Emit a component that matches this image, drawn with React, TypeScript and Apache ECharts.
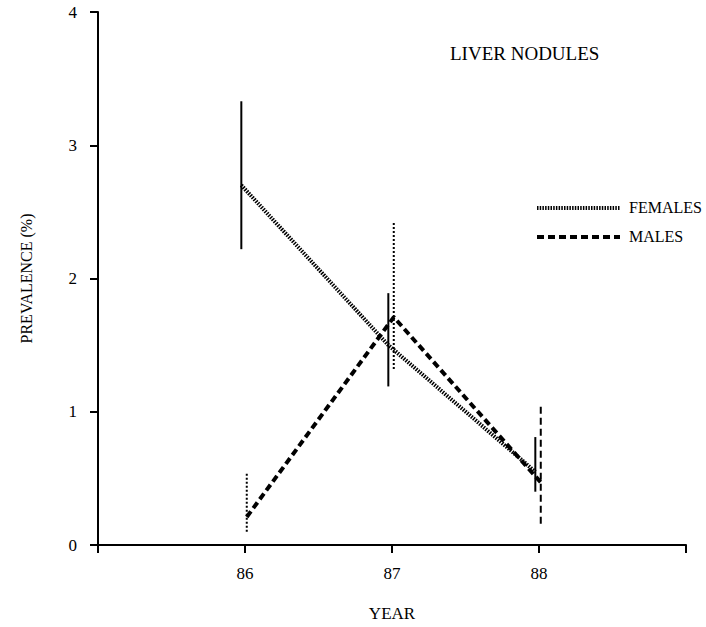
import React, { useEffect, useRef } from "react";
import * as echarts from "echarts";

const years = [86, 87, 88];
const femaleValues = [2.7, 1.5, 0.55];
const femaleLow = [2.22, 1.19, 0.4];
const femaleHigh = [3.33, 1.89, 0.81];
const maleValues = [0.21, 1.71, 0.47];
const maleLow = [0.1, 1.32, 0.16];
const maleHigh = [0.55, 2.42, 1.06];
const maleBarStyle = ["dotted", "dotted", "dashed"];
const xTickLabels = ["86", "87", "88"];
const yTickLabels = ["0", "1", "2", "3", "4"];

const FONT = "Liberation Serif";
const FEMALE_OFFSET = -0.025;
const MALE_OFFSET = 0.012;

export default function App() {
  const ref = useRef<HTMLDivElement>(null);

  useEffect(() => {
    if (!ref.current) return;
    const chart = echarts.init(ref.current, null, { renderer: "svg" });

    const femaleLine = years.map((y, i) => [y + FEMALE_OFFSET, femaleValues[i]]);
    const maleLine = years.map((y, i) => [y + MALE_OFFSET, maleValues[i]]);
    const femaleErr = years.map((y, i) => [y + FEMALE_OFFSET, femaleLow[i], femaleHigh[i], 0]);
    const maleErr = years.map((y, i) => [y + MALE_OFFSET, maleLow[i], maleHigh[i], maleBarStyle[i] === "dotted" ? 1 : 2]);

    const errRender = (params: any, api: any) => {
      const x = api.value(0);
      const lo = api.coord([x, api.value(1)]);
      const hi = api.coord([x, api.value(2)]);
      const kind = api.value(3);
      const dash = kind === 0 ? null : kind === 1 ? [2, 2] : [7, 4];
      return {
        type: "line",
        shape: { x1: lo[0], y1: lo[1], x2: hi[0], y2: hi[1] },
        style: { stroke: "#000", lineWidth: 2, lineDash: dash },
      };
    };

    chart.setOption({
      animation: false,
      backgroundColor: "#fff",
      textStyle: { fontFamily: FONT },
      grid: { left: 98, right: 20, top: 12, bottom: 81, containLabel: false },
      xAxis: {
        type: "value",
        min: 85,
        max: 89,
        interval: 1,
        name: "YEAR",
        nameLocation: "middle",
        nameGap: 60,
        nameTextStyle: { fontFamily: FONT, fontSize: 17, color: "#000" },
        axisLine: { lineStyle: { color: "#000", width: 2 } },
        axisTick: { show: true, length: 8, lineStyle: { color: "#000", width: 2 } },
        axisLabel: {
          fontFamily: FONT,
          fontSize: 17,
          color: "#000",
          margin: 20,
          formatter: (v: number) => {
            const idx = years.indexOf(Math.round(v));
            return idx >= 0 && Math.abs(v - years[idx]) < 1e-6 ? xTickLabels[idx] : "";
          },
        },
        splitLine: { show: false },
      },
      yAxis: {
        type: "value",
        min: 0,
        max: 4,
        interval: 1,
        name: "PREVALENCE (%)",
        nameLocation: "middle",
        nameGap: 64,
        nameTextStyle: { fontFamily: FONT, fontSize: 16, color: "#000" },
        axisLine: { show: true, lineStyle: { color: "#000", width: 2 } },
        axisTick: { show: true, length: 8, lineStyle: { color: "#000", width: 2 } },
        axisLabel: {
          fontFamily: FONT,
          fontSize: 17,
          color: "#000",
          margin: 21,
          formatter: (v: number) => yTickLabels[Math.round(v)] ?? "",
        },
        splitLine: { show: false },
      },
      series: [
        {
          name: "FEMALES",
          type: "line",
          data: femaleLine,
          symbol: "none",
          lineStyle: { color: "#000", width: 4, type: [1.5, 1.2] },
          z: 3,
        },
        {
          name: "MALES",
          type: "line",
          data: maleLine,
          symbol: "none",
          lineStyle: { color: "#000", width: 4, type: [7, 4] },
          z: 3,
        },
        {
          type: "custom",
          renderItem: errRender,
          data: femaleErr,
          encode: { x: 0, y: [1, 2] },
          z: 4,
        },
        {
          type: "custom",
          renderItem: errRender,
          data: maleErr,
          encode: { x: 0, y: [1, 2] },
          z: 4,
        },
      ],
      graphic: [
        {
          type: "text",
          left: 450,
          top: 44,
          style: { text: "LIVER NODULES", fontFamily: FONT, fontSize: 19, fill: "#000" },
        },
        {
          type: "line",
          shape: { x1: 537, y1: 208, x2: 620, y2: 208 },
          style: { stroke: "#000", lineWidth: 4, lineDash: [1.5, 1.2] },
        },
        {
          type: "line",
          shape: { x1: 537, y1: 237, x2: 620, y2: 237 },
          style: { stroke: "#000", lineWidth: 4, lineDash: [7, 4] },
        },
        {
          type: "text",
          left: 629,
          top: 199,
          style: { text: "FEMALES", fontFamily: FONT, fontSize: 16, fill: "#000" },
        },
        {
          type: "text",
          left: 629,
          top: 228,
          style: { text: "MALES", fontFamily: FONT, fontSize: 16, fill: "#000" },
        },
      ],
    });

    return () => chart.dispose();
  }, []);

  return (
    <div
      ref={ref}
      style={{ position: "fixed", left: 0, top: 0, width: 706, height: 627, background: "#fff" }}
    />
  );
}
